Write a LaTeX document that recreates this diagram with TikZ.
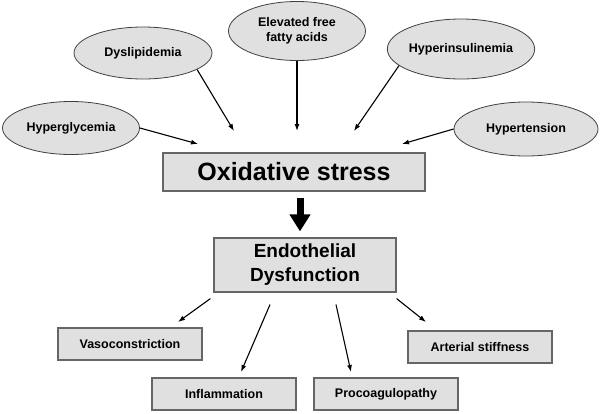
\documentclass[tikz,border=0pt]{standalone}
\usepackage{fontspec}
\setmainfont{Liberation Sans}
\usetikzlibrary{arrows,arrows.meta,positioning,shapes}

\begin{document}
\begin{tikzpicture}[x=1pt,y=-1pt,
        cause/.style={ellipse,draw=black!75,fill=black!12,line width=0.8pt,inner sep=0pt,align=center,
                font=\bfseries\fontsize{12.5}{15}\selectfont},
        effect/.style={rectangle,draw=black!60,fill=black!12,line width=1.2pt,minimum width=144pt,
                minimum height=32pt,inner sep=0pt,font=\bfseries\fontsize{12.5}{15}\selectfont},
        arr/.style={-{Latex[length=7pt,width=5pt]},line width=1.1pt},
        bigarr/.style={-{Triangle[length=17pt,width=20pt]},line width=7pt}]
                    \useasboundingbox (0,0) rectangle (600,413);
                    % risk factors
                    \node[cause,minimum width=137pt,minimum height=53pt] (hg) at (71,128) {Hyperglycemia};
                    \node[cause,minimum width=138pt,minimum height=52pt] (dl) at (143,53) {Dyslipidemia};
                    \node[cause,minimum width=137pt,minimum height=59pt] (ef) at (297,31) {Elevated free\\fatty acids};
                    \node[cause,minimum width=145pt,minimum height=60pt] (hi) at (461,49) {Hyperinsulinemia};
                    \node[cause,minimum width=144pt,minimum height=54pt] (ht) at (526,129) {Hypertension};
                    % center
                    \node[effect,minimum width=262pt,minimum height=38pt,font=\bfseries\fontsize{25}{30}\selectfont] (ox) at (294,172) {Oxidative stress};
                    \node[effect,minimum width=182pt,minimum height=54pt,align=center,font=\bfseries\fontsize{19}{24}\selectfont] (ed) at (305,265) {Endothelial\\Dysfunction};
                    % consequences
                    \node[effect] (vc) at (130,344) {Vasoconstriction};
                    \node[effect] (im) at (224,394) {Inflammation};
                    \node[effect] (pc) at (386,394) {Procoagulopathy};
                    \node[effect] (as) at (480,347) {Arterial stiffness};

                    \coordinate (t1) at (198,144);
                    \coordinate (t2) at (234,131);
                    \coordinate (t3) at (297,131);
                    \coordinate (t4) at (354,131);
                    \coordinate (t5) at (402,144);
                    \coordinate (b1) at (178,322);
                    \coordinate (b2) at (241,372);
                    \coordinate (b3) at (351,372);
                    \coordinate (b4) at (426,322);

                    \draw[arr] (hg.east) -- (t1);
                    \draw[arr] (dl.-17) -- (t2);
                    \draw[arr] (ef.south) -- (t3);
                    \draw[arr] (hi.195) -- (t4);
                    \draw[arr] (ht.west) -- (t5);
                    \draw[bigarr,shorten <=6pt,shorten >=6pt] ([xshift=6pt]ox.south) -- ([xshift=6pt]ox.south |- ed.north);
                    \draw[arr] ([shift={(-3,6)}]ed.south west) -- (b1);
                    \draw[arr] ([shift={(-35,12)}]ed.south) -- (b2);
                    \draw[arr] ([shift={(31,12)}]ed.south) -- (b3);
                    \draw[arr] ([shift={(0,6)}]ed.south east) -- (b4);
\end{tikzpicture}
\end{document}
